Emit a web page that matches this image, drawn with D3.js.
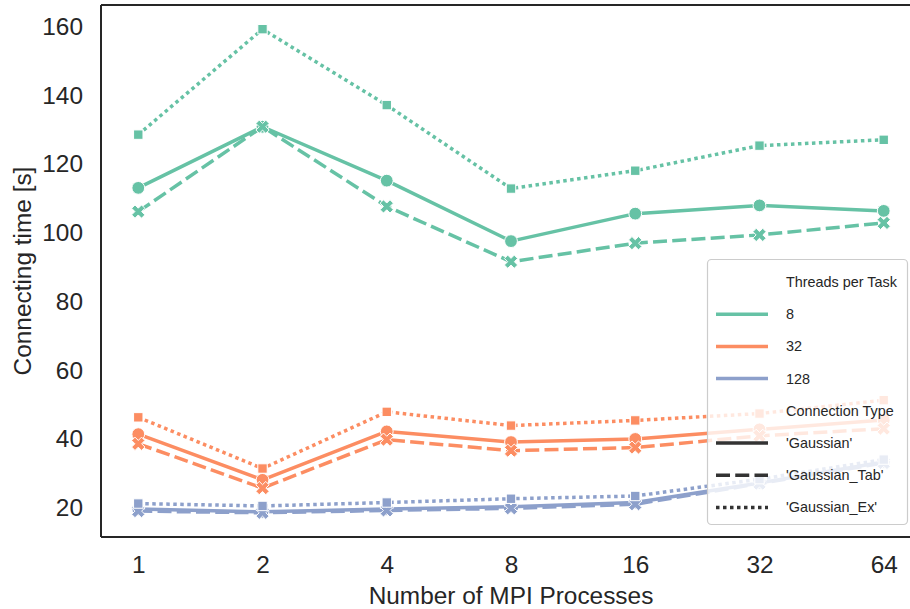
<!DOCTYPE html>
<html>
<head>
<meta charset="utf-8">
<script src="https://cdn.jsdelivr.net/npm/d3@7"></script>
<style>
  html, body { margin: 0; padding: 0; background: #fff; }
  svg { display: block; font-family: Arial, "Liberation Sans", sans-serif; }
</style>
</head>
<body>
<svg id="chart" width="910" height="609"></svg>
<script>
// ---- data ----
const mpiProcesses = [1, 2, 4, 8, 16, 32, 64];
const threadLevels = ["8", "32", "128"];
const connectionTypes = ["'Gaussian'", "'Gaussian_Tab'", "'Gaussian_Ex'"];

const t8_gaussian    = [113.1, 130.9, 115.2, 97.6, 105.6, 108.0, 106.4];
const t8_gaussianTab = [106.2, 130.9, 107.7, 91.6, 97.0, 99.4, 102.9];
const t8_gaussianEx  = [128.6, 159.3, 137.2, 112.9, 118.1, 125.4, 127.1];

const t32_gaussian    = [41.4, 28.1, 42.2, 39.1, 40.0, 42.8, 45.5];
const t32_gaussianTab = [38.6, 25.7, 39.8, 36.6, 37.5, 40.9, 43.0];
const t32_gaussianEx  = [46.3, 31.4, 47.9, 43.9, 45.4, 47.4, 51.3];

const t128_gaussian    = [19.6, 18.8, 19.6, 20.3, 21.5, 27.2, 33.3];
const t128_gaussianTab = [19.0, 18.5, 19.2, 19.8, 21.0, 27.0, 33.0];
const t128_gaussianEx  = [21.2, 20.5, 21.5, 22.6, 23.4, 28.3, 34.0];

const yTicks = [20, 40, 60, 80, 100, 120, 140, 160];

// ---- build series table ----
const seriesValues = {
  "8":   [t8_gaussian, t8_gaussianTab, t8_gaussianEx],
  "32":  [t32_gaussian, t32_gaussianTab, t32_gaussianEx],
  "128": [t128_gaussian, t128_gaussianTab, t128_gaussianEx]
};
const series = [];
threadLevels.forEach(t => {
  connectionTypes.forEach((c, ci) => {
    series.push({ thread: t, conn: c, ci: ci,
      points: mpiProcesses.map((x, i) => ({ x: x, y: seriesValues[t][ci][i] })) });
  });
});

// ---- styling ----
const colors = { "8": "#66c2a5", "32": "#fc8d62", "128": "#8da0cb" };
const LW = 3.5;
const dashes = ["", `${4*LW},${1.5*LW}`, `${1*LW},${1*LW}`];
const markers = ["circle", "x", "square"];
const textColor = "#262626";
const FONT = "Arial, 'Liberation Sans', sans-serif";

// ---- layout ----
const svg = d3.select("#chart");
const pLeft = 101, pRight = 921, pTop = 5, pBottom = 537;

const x = d3.scaleLog().base(2)
  .domain([Math.pow(2, -0.3), Math.pow(2, 6.3)])
  .range([pLeft, pRight]);

const allY = series.flatMap(s => s.points.map(p => p.y));
const yMin = d3.min(allY), yMax = d3.max(allY);
const pad = (yMax - yMin) * 0.05;
const y = d3.scaleLinear().domain([yMin - pad, yMax + pad]).range([pBottom, pTop]);

// clip
svg.append("defs").append("clipPath").attr("id", "plotclip")
  .append("rect").attr("x", pLeft).attr("y", pTop).attr("width", pRight - pLeft).attr("height", pBottom - pTop);

const plot = svg.append("g").attr("clip-path", "url(#plotclip)");

const line = d3.line().x(d => x(d.x)).y(d => y(d.y));

function xPath(s) {
  // filled X marker (plus rotated 45deg)
  const a = s / 2, w = s * 0.17;
  const pts = [
    [-w, -a], [w, -a], [w, -w], [a, -w], [a, w], [w, w], [w, a], [-w, a], [-w, w], [-a, w], [-a, -w], [-w, -w]
  ];
  const r = pts.map(([px, py]) => {
    const c = Math.SQRT1_2;
    return [(px - py) * c, (px + py) * c];
  });
  return "M" + r.map(p => p[0].toFixed(2) + "," + p[1].toFixed(2)).join("L") + "Z";
}

series.forEach(s => {
  const g = plot.append("g");
  g.append("path")
    .datum(s.points)
    .attr("d", line)
    .attr("fill", "none")
    .attr("stroke", colors[s.thread])
    .attr("stroke-width", LW)
    .attr("stroke-dasharray", dashes[s.ci] || null)
    .attr("stroke-linecap", "butt")
    .attr("stroke-linejoin", "round");
  const m = markers[s.ci];
  const mg = g.selectAll("g.m").data(s.points).enter().append("g")
    .attr("transform", d => `translate(${x(d.x)},${y(d.y)})`);
  if (m === "circle") {
    mg.append("circle").attr("r", 6.4).attr("fill", colors[s.thread]).attr("stroke", "#fff").attr("stroke-width", 1);
  } else if (m === "square") {
    mg.append("rect").attr("x", -4.7).attr("y", -4.7).attr("width", 9.4).attr("height", 9.4)
      .attr("fill", colors[s.thread]).attr("stroke", "#fff").attr("stroke-width", 1);
  } else {
    mg.append("path").attr("d", xPath(14)).attr("fill", colors[s.thread]).attr("stroke", "#fff").attr("stroke-width", 1);
  }
});

// ---- frame ----
const frame = svg.append("g");
frame.append("line").attr("x1", pLeft).attr("x2", pLeft).attr("y1", pTop).attr("y2", pBottom)
  .attr("stroke", textColor).attr("stroke-width", 2);
frame.append("line").attr("x1", pLeft).attr("x2", pRight).attr("y1", pTop).attr("y2", pTop)
  .attr("stroke", textColor).attr("stroke-width", 2);
frame.append("line").attr("x1", pLeft).attr("x2", pRight).attr("y1", pBottom).attr("y2", pBottom)
  .attr("stroke", textColor).attr("stroke-width", 2);

// ---- axes ----
const xAxis = d3.axisBottom(x).tickValues(mpiProcesses).tickFormat(d3.format("d")).tickSize(0).tickPadding(19);
const gx = svg.append("g").attr("transform", `translate(0,${pBottom})`).call(xAxis);
gx.select(".domain").remove();
gx.selectAll("text").attr("font-size", "24.4px").attr("fill", textColor).attr("font-family", FONT);

const yAxis = d3.axisLeft(y).tickValues(yTicks).tickSize(0).tickPadding(18);
const gy = svg.append("g").attr("transform", `translate(${pLeft},0)`).call(yAxis);
gy.select(".domain").remove();
gy.selectAll("text").attr("font-size", "24.4px").attr("fill", textColor).attr("font-family", FONT);

svg.append("text").attr("x", (pLeft + pRight) / 2).attr("y", 603.5)
  .attr("text-anchor", "middle").attr("font-size", "24.4px").attr("fill", textColor)
  .attr("font-family", FONT)
  .text("Number of MPI Processes");

svg.append("text").attr("transform", `translate(31,${(pTop + pBottom) / 2}) rotate(-90)`)
  .attr("text-anchor", "middle").attr("font-size", "24.4px").attr("fill", textColor)
  .attr("font-family", FONT)
  .text("Connecting time [s]");

// ---- legend ----
const lg = svg.append("g");
lg.append("rect").attr("x", 707.5).attr("y", 259.5).attr("width", 200).attr("height", 265)
  .attr("rx", 4).attr("ry", 4)
  .attr("fill", "#fff").attr("fill-opacity", 0.8)
  .attr("stroke", "#cccccc").attr("stroke-width", 1.2);

const legendItems = [
  { label: "Threads per Task", title: true },
  ...threadLevels.map(t => ({ label: t, color: colors[t], dash: "" })),
  { label: "Connection Type", title: true },
  ...connectionTypes.map((c, i) => ({ label: c, color: "#333333", dash: dashes[i] }))
];
legendItems.forEach((it, i) => {
  const cy = 282 + i * 32.2;
  if (!it.title) {
    lg.append("line").attr("x1", 716).attr("x2", 768).attr("y1", cy).attr("y2", cy)
      .attr("stroke", it.color).attr("stroke-width", LW)
      .attr("stroke-dasharray", it.dash || null);
  }
  lg.append("text").attr("x", 786).attr("y", cy).attr("dy", "0.35em")
    .attr("font-size", "14.4px").attr("fill", textColor).attr("font-family", FONT).text(it.label);
});
</script>
</body>
</html>
